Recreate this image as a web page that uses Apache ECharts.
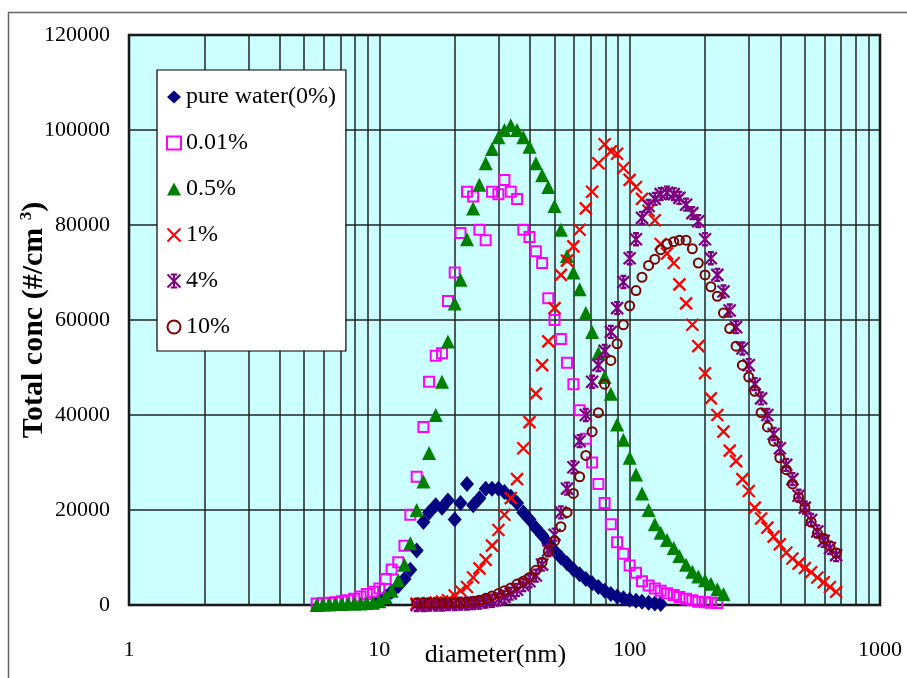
<!DOCTYPE html>
<html>
<head>
<meta charset="utf-8">
<script src="https://cdn.jsdelivr.net/npm/echarts@6/dist/echarts.min.js"></script>
<style>
html,body{margin:0;padding:0;background:#fff;}
#chart{width:907px;height:678px;}
</style>
</head>
<body>
<div id="chart"></div>
<script>
// SMPS channel diameters (nm)
const diameters = [
  5.62, 5.96, 6.31, 6.68, 7.08, 7.50, 7.94, 8.41, 8.91, 9.44,
  10.0, 10.6, 11.2, 11.9, 12.6, 13.3, 14.1, 15.0, 15.8, 16.8,
  17.8, 18.8, 20.0, 21.1, 22.4, 23.7, 25.1, 26.6, 28.2, 29.9,
  31.6, 33.5, 35.5, 37.6, 39.8, 42.2, 44.7, 47.3, 50.1, 53.1,
  56.2, 59.6, 63.1, 66.8, 70.8, 75.0, 79.4, 84.1, 89.1, 94.4,
  100, 106, 112, 119, 126, 133, 141, 150, 158, 168,
  178, 188, 200, 211, 224, 237, 251, 266, 282, 299,
  316, 335, 355, 376, 398, 422, 447, 473, 501, 531,
  562, 596, 631, 668, 708
];

// first channel index of each series
const pureWaterStart = 10;
const conc001Start = 0;
const conc05Start = 0;
const conc1Start = 16;
const conc4Start = 16;
const conc10Start = 16;

const pureWater = [
  1000,1800,2800,4000,5500,7400,11500,17500,19500,21000,
  20500,22000,18000,21500,25500,21000,22500,24500,24500,24500,
  23800,22800,21500,19500,18000,16200,14700,13000,11400,10000,
  8800,7500,6500,5500,4600,3800,3000,2300,1800,1400,
  1100,900,700,500,300,200
];
const conc001 = [
  300,400,500,600,800,1000,1300,1800,2300,2800,
  3500,5500,7500,9000,12500,19000,27000,37500,47000,52500,
  53000,64000,70000,78300,87000,86000,79000,76800,87000,86500,
  89500,87000,85500,79000,77500,74500,72000,64600,60000,56000,
  51000,46500,41000,35000,30000,25500,21500,17000,13200,10800,
  8300,6800,5000,4100,3500,3000,2500,2100,1700,1300,
  1000,700,600,500,400
];
const conc05 = [
  0,100,100,200,200,300,300,300,400,500,
  800,1700,3000,5200,8500,13000,20000,26000,32000,40000,
  47000,55500,63500,68500,77000,83500,88500,93000,96000,98500,
  100000,101000,100000,98500,96500,93000,90500,88000,84000,79000,
  73500,70000,66500,61500,57500,53000,48000,44500,38000,34800,
  31000,27500,23500,20000,17000,15200,13700,12000,10300,8500,
  7000,6000,5200,4500,3300,2300
];
const conc1 = [
  300,300,400,500,700,1000,2000,3000,3800,5800,
  7700,9500,12500,15800,19000,22500,26500,33000,38500,44500,
  50500,55500,62500,69500,72500,75500,79000,83500,87000,93000,
  97000,95500,95000,92000,89500,88000,85500,83000,81000,76000,
  74000,72000,67500,63500,59000,54500,48800,43500,40000,36500,
  32500,30300,26500,24000,20500,18200,16300,14400,12800,11000,
  9800,8700,7800,6900,5800,4800,3800,2800
];
const conc4 = [
  0,0,100,100,100,200,200,300,300,400,
  500,700,900,1200,1700,2400,3200,4200,5000,6200,
  8500,11500,14800,19500,24500,29000,34500,40000,47000,50500,
  53500,57500,62500,68000,73000,77000,81500,84000,85500,86500,
  86800,86500,85700,84300,82500,80800,77000,73000,69500,66000,
  62000,58500,54000,50500,46500,43500,40000,36000,33000,29500,
  26500,23000,20500,17900,15500,13500,12000,10500
];
const conc10 = [
  400,400,400,400,400,500,500,500,600,800,
  1000,1400,1900,2400,3000,3600,4400,5000,5800,7300,
  9000,11300,13500,16500,19500,23500,27000,31500,36500,40500,
  46500,51500,55000,59000,63000,66200,69000,71500,72800,74800,
  76000,76500,76800,76800,75000,72000,69500,67000,65000,61500,
  58200,54500,50500,48000,45000,40500,37500,34500,31000,28500,
  25500,22700,20500,17500,15100,14000,12500,11000
];

const seriesNames = ['pure water(0%)', '0.01%', '0.5%', '1%', '4%', '10%'];
const xTickValues = [1, 10, 100, 1000];
const yTicks = [0, 20000, 40000, 60000, 80000, 100000, 120000];
const minorGridValues = [2,3,4,5,6,7,8,9,20,30,40,50,60,70,80,90,200,300,400,500,600,700,800,900];

function pairs(start, vals) {
  return vals.map((v, k) => [diameters[start + k], v]);
}

const serif = 'Liberation Serif, Times New Roman, serif';
const gridColor = '#222';

const crossPath = 'path://M0,0L10,10M10,0L0,10';
const starPath = 'path://M0,0L10,10M10,0L0,10M5,0L5,10M2.5,0L7.5,0M2.5,10L7.5,10';

const chart = echarts.init(document.getElementById('chart'), null, {renderer: 'canvas'});

function sc(name, start, vals, symbol, size, style) {
  style.opacity = 1;
  return {
    type: 'scatter', name: name, data: pairs(start, vals),
    symbol: symbol, symbolSize: size, itemStyle: style,
    emphasis: {disabled: true}, silent: true, large: false
  };
}

const series = [
  sc(seriesNames[0], pureWaterStart, pureWater, 'diamond', [14, 16], {color: '#000080'}),
  sc(seriesNames[1], conc001Start, conc001, 'rect', 10, {color: 'rgba(0,0,0,0)', borderColor: '#ff00ff', borderWidth: 2}),
  sc(seriesNames[2], conc05Start, conc05, 'triangle', [14, 14], {color: '#008000'}),
  sc(seriesNames[3], conc1Start, conc1, crossPath, 12, {color: 'rgba(0,0,0,0)', borderColor: '#ff0000', borderWidth: 2.3}),
  sc(seriesNames[4], conc4Start, conc4, starPath, 12, {color: 'rgba(0,0,0,0)', borderColor: '#800080', borderWidth: 2.3}),
  sc(seriesNames[5], conc10Start, conc10, 'circle', 9, {color: 'rgba(0,0,0,0)', borderColor: '#800000', borderWidth: 2})
];
series[0].markLine = {
  silent: true, symbol: ['none', 'none'], label: {show: false}, z: 1, animation: false,
  lineStyle: {color: gridColor, width: 1.5, type: 'solid'},
  data: minorGridValues.map(v => ({xAxis: v}))
};

chart.setOption({
  animation: false,
  backgroundColor: '#ffffff',
  graphic: [{
    type: 'rect', z: -10, silent: true,
    shape: {x: 8.5, y: 12.5, width: 1000, height: 1000},
    style: {fill: 'none', stroke: '#666', lineWidth: 1.5}
  }],
  grid: {
    left: 129, right: 27, top: 35, bottom: 73,
    containLabel: false, outerBoundsMode: 'none',
    show: true, backgroundColor: '#ccffff', borderColor: '#000', borderWidth: 2.5
  },
  legend: {
    orient: 'vertical', left: 157, top: 70,
    padding: [15, 10, 12, 9],
    itemWidth: 14, itemHeight: 13, itemGap: 22,
    backgroundColor: '#ffffff', borderColor: '#000', borderWidth: 1.2,
    textStyle: {fontFamily: serif, fontSize: 24, lineHeight: 24, color: '#000'},
    data: seriesNames,
    selectedMode: false
  },
  xAxis: {
    type: 'log', logBase: 10, min: xTickValues[0], max: xTickValues[xTickValues.length - 1],
    name: 'diameter(nm)', nameLocation: 'middle', nameGap: 37, nameMoveOverlap: false,
    nameTextStyle: {fontFamily: serif, fontSize: 26, color: '#000', padding: [0, 18, 0, 0]},
    axisLine: {show: false}, axisTick: {show: false},
    axisLabel: {fontFamily: serif, fontSize: 22, color: '#000', margin: 34, formatter: v => String(v)},
    splitLine: {show: true, lineStyle: {color: gridColor, width: 1.5}},
    minorTick: {show: false}, minorSplitLine: {show: false}
  },
  yAxis: {
    type: 'value', min: yTicks[0], max: yTicks[yTicks.length - 1], interval: yTicks[1] - yTicks[0],
    name: '{a|Total conc (#/cm }{s|3}{a|)}', nameLocation: 'middle', nameGap: 78, nameRotate: 90,
    nameMoveOverlap: false,
    nameTextStyle: {
      rich: {
        a: {fontFamily: serif, fontSize: 30, fontWeight: 'bold', color: '#000'},
        s: {fontFamily: serif, fontSize: 17, fontWeight: 'bold', color: '#000', padding: [0, 0, 16, 0]}
      }
    },
    axisLine: {show: false}, axisTick: {show: false},
    axisLabel: {fontFamily: serif, fontSize: 22, color: '#000', margin: 19, formatter: v => String(v)},
    splitLine: {show: true, lineStyle: {color: gridColor, width: 1.5}}
  },
  series: series
});
</script>
</body>
</html>
